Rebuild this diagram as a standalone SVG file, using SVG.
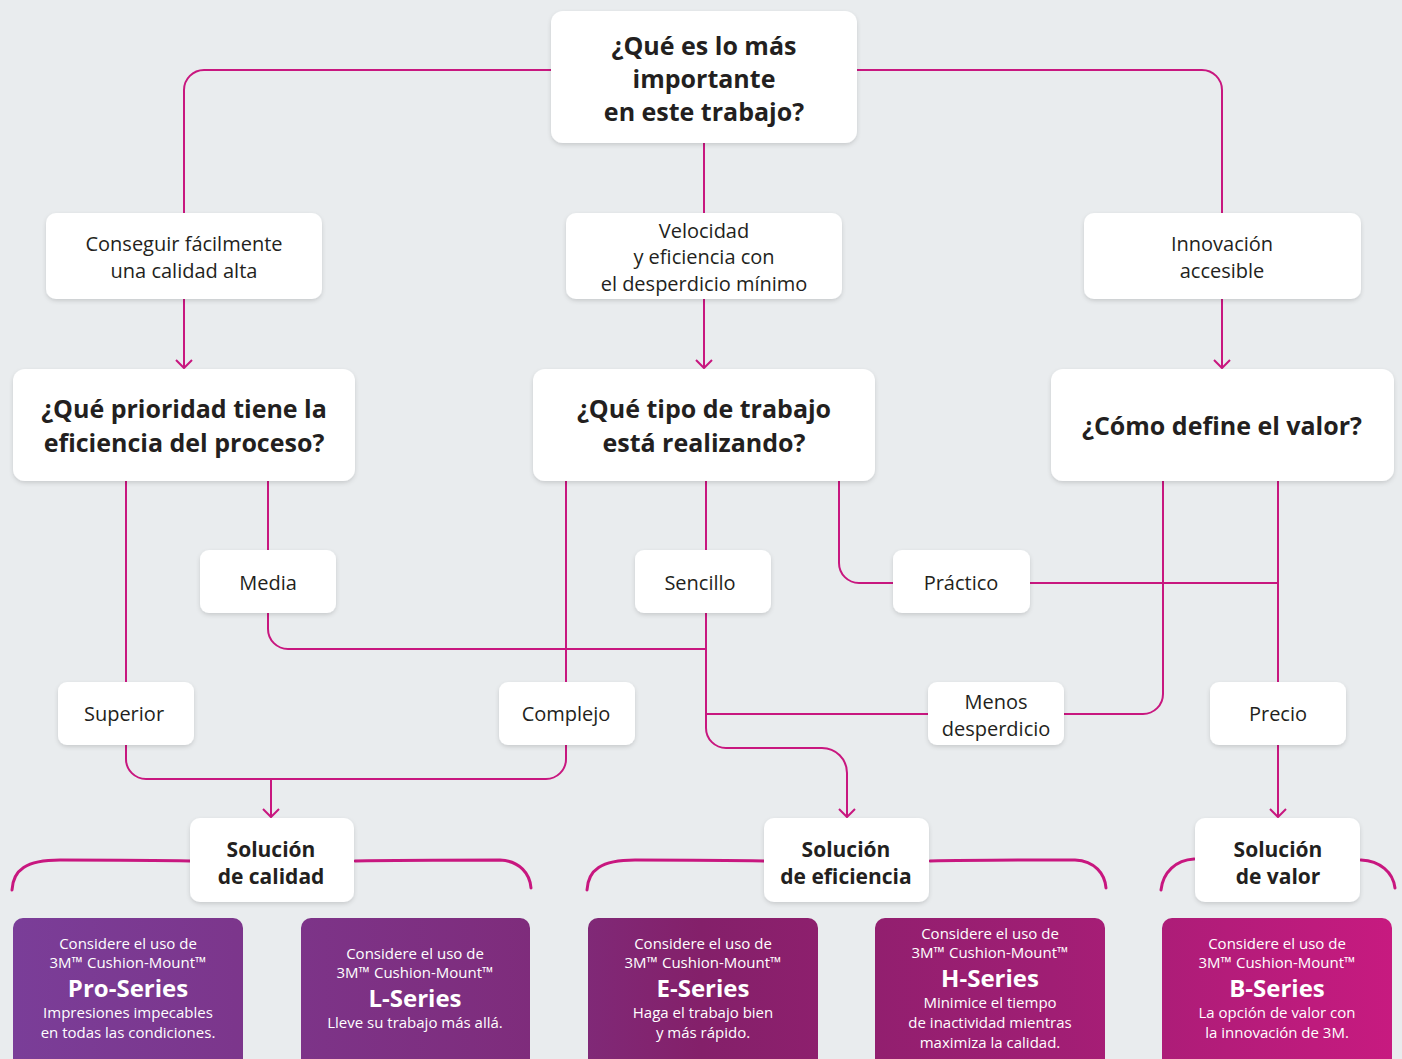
<svg xmlns="http://www.w3.org/2000/svg" width="1402" height="1059" viewBox="0 0 1402 1059">
<defs>
<style>
.bx{fill:#ffffff;filter:url(#sh)}
.t{font-family:"Open Sans","Liberation Sans",sans-serif;fill:#231f20;text-anchor:middle}
.r{font-size:20px;font-weight:400}
.q{font-size:25px;font-weight:700}
.s{font-size:21px;font-weight:700}
.w{font-family:"Open Sans","Liberation Sans",sans-serif;fill:#ffffff;text-anchor:middle;font-size:15px}
.w .n{font-size:24px;font-weight:700}
.c{fill:none;stroke:#c8177f;stroke-width:2}
.br{fill:none;stroke:#c8177f;stroke-width:3;stroke-linecap:round}
.pb{fill:url(#pg)}
</style>
<filter id="sh" x="-10%" y="-10%" width="120%" height="130%">
<feDropShadow dx="0" dy="2" stdDeviation="2" flood-color="#000" flood-opacity="0.14"/>
</filter>
<linearGradient id="pg" gradientUnits="userSpaceOnUse" x1="0" y1="0" x2="1402" y2="0">
<stop offset="0" stop-color="#7a3e99"/>
<stop offset="0.4" stop-color="#7f2b7a"/>
<stop offset="0.5" stop-color="#84206a"/>
<stop offset="0.75" stop-color="#a01e74"/>
<stop offset="1" stop-color="#c81a80"/>
</linearGradient>
<marker id="ar" viewBox="-10 -10 12 20" refX="0" refY="0" markerWidth="12" markerHeight="20" markerUnits="userSpaceOnUse" orient="auto">
<path d="M-8,-8 L0,0 L-8,8" fill="none" stroke="#c8177f" stroke-width="2"/>
</marker>
</defs>
<rect x="0" y="0" width="1402" height="1059" fill="#e9ecee"/>

<g id="connectors">
<path class="c" d="M551,70 H204 A20,20 0 0 0 184,90 V213"/>
<path class="c" d="M857,70 H1202 A20,20 0 0 1 1222,90 V213"/>
<path class="c" d="M704,143 V213"/>
<path class="c" d="M184,299 V368" marker-end="url(#ar)"/>
<path class="c" d="M704,299 V368" marker-end="url(#ar)"/>
<path class="c" d="M1222,299 V368" marker-end="url(#ar)"/>
<path class="c" d="M126,481 V682"/>
<path class="c" d="M268,481 V550"/>
<path class="c" d="M268,613 V629 A20,20 0 0 0 288,649 H706"/>
<path class="c" d="M126,745 V759 A20,20 0 0 0 146,779 H546 A20,20 0 0 0 566,759 V745"/>
<path class="c" d="M271,779 V817" marker-end="url(#ar)"/>
<path class="c" d="M566,481 V682"/>
<path class="c" d="M706,481 V550"/>
<path class="c" d="M706,613 V728 A20,20 0 0 0 726,748 H822 A25,25 0 0 1 847,773 V817" marker-end="url(#ar)"/>
<path class="c" d="M706,714 H928"/>
<path class="c" d="M839,481 V563 A20,20 0 0 0 859,583 H893"/>
<path class="c" d="M1030,583 H1278"/>
<path class="c" d="M1163,481 V694 A20,20 0 0 1 1143,714 H1064"/>
<path class="c" d="M1278,481 V682"/>
<path class="c" d="M1278,745 V817" marker-end="url(#ar)"/>
<path class="br" d="M12,890 C13,870 26,860 60,860 C110,860 150,860 190,861"/>
<path class="br" d="M355,861 C400,860 450,860 500,860 C520,861 530,874 531,888"/>
<path class="br" d="M587,890 C588,870 601,860 635,860 C680,860 720,860 764,861"/>
<path class="br" d="M930,861 C975,860 1025,860 1075,860 C1095,861 1105,874 1106,888"/>
<path class="br" d="M1161,890 C1163,872 1176,860 1194,859"/>
<path class="br" d="M1361,860 C1380,861 1393,872 1395,888"/>
</g>

<g id="n-top"><rect class="bx" x="551" y="11" width="306" height="132" rx="12"/>
<text class="t q"><tspan x="704" y="55">¿Qué es lo más</tspan><tspan x="704" y="88">importante</tspan><tspan x="704" y="121">en este trabajo?</tspan></text></g>

<g id="n-conseguir"><rect class="bx" x="46" y="213" width="276" height="86" rx="10"/>
<text class="t r"><tspan x="184" y="251">Conseguir fácilmente</tspan><tspan x="184" y="278">una calidad alta</tspan></text></g>

<g id="n-velocidad"><rect class="bx" x="566" y="213" width="276" height="86" rx="10"/>
<text class="t r"><tspan x="704" y="238">Velocidad</tspan><tspan x="704" y="264">y eficiencia con</tspan><tspan x="704" y="291">el desperdicio mínimo</tspan></text></g>

<g id="n-innovacion"><rect class="bx" x="1084" y="213" width="277" height="86" rx="10"/>
<text class="t r"><tspan x="1222" y="251">Innovación</tspan><tspan x="1222" y="278">accesible</tspan></text></g>

<g id="n-prioridad"><rect class="bx" x="13" y="369" width="342" height="112" rx="12"/>
<text class="t q"><tspan x="184" y="418">¿Qué prioridad tiene la</tspan><tspan x="184" y="452">eficiencia del proceso?</tspan></text></g>

<g id="n-tipo"><rect class="bx" x="533" y="369" width="342" height="112" rx="12"/>
<text class="t q"><tspan x="704" y="418">¿Qué tipo de trabajo</tspan><tspan x="704" y="452">está realizando?</tspan></text></g>

<g id="n-valor"><rect class="bx" x="1051" y="369" width="343" height="112" rx="12"/>
<text class="t q" x="1222" y="435">¿Cómo define el valor?</text></g>

<g id="n-media"><rect class="bx" x="200" y="550" width="136" height="63" rx="9"/>
<text class="t r" x="268" y="590">Media</text></g>

<g id="n-sencillo"><rect class="bx" x="635" y="550" width="136" height="63" rx="9"/>
<text class="t r" x="700" y="590">Sencillo</text></g>

<g id="n-practico"><rect class="bx" x="893" y="550" width="137" height="63" rx="9"/>
<text class="t r" x="961" y="590">Práctico</text></g>

<g id="n-superior"><rect class="bx" x="58" y="682" width="136" height="63" rx="9"/>
<text class="t r" x="124" y="721">Superior</text></g>

<g id="n-complejo"><rect class="bx" x="499" y="682" width="136" height="63" rx="9"/>
<text class="t r" x="566" y="721">Complejo</text></g>

<g id="n-menos"><rect class="bx" x="928" y="682" width="136" height="63" rx="9"/>
<text class="t r"><tspan x="996" y="709">Menos</tspan><tspan x="996" y="736">desperdicio</tspan></text></g>

<g id="n-precio"><rect class="bx" x="1210" y="682" width="136" height="63" rx="9"/>
<text class="t r" x="1278" y="721">Precio</text></g>

<g id="n-sol-calidad"><rect class="bx" x="190" y="818" width="164" height="84" rx="10"/>
<text class="t s"><tspan x="271" y="857">Solución</tspan><tspan x="271" y="884">de calidad</tspan></text></g>

<g id="n-sol-eficiencia"><rect class="bx" x="764" y="818" width="165" height="84" rx="10"/>
<text class="t s"><tspan x="846" y="857">Solución</tspan><tspan x="846" y="884">de eficiencia</tspan></text></g>

<g id="n-sol-valor"><rect class="bx" x="1195" y="818" width="165" height="84" rx="10"/>
<text class="t s"><tspan x="1278" y="857">Solución</tspan><tspan x="1278" y="884">de valor</tspan></text></g>

<g id="p-pro"><rect class="pb" x="13" y="918" width="230" height="160" rx="10"/>
<text class="w"><tspan x="128" y="949">Considere el uso de</tspan><tspan x="128" y="968">3M™ Cushion-Mount™</tspan><tspan class="n" x="128" y="997">Pro-Series</tspan><tspan x="128" y="1018">Impresiones impecables</tspan><tspan x="128" y="1038">en todas las condiciones.</tspan></text></g>

<g id="p-l"><rect class="pb" x="301" y="918" width="229" height="160" rx="10"/>
<text class="w"><tspan x="415" y="959">Considere el uso de</tspan><tspan x="415" y="978">3M™ Cushion-Mount™</tspan><tspan class="n" x="415" y="1007">L-Series</tspan><tspan x="415" y="1028">Lleve su trabajo más allá.</tspan></text></g>

<g id="p-e"><rect class="pb" x="588" y="918" width="230" height="160" rx="10"/>
<text class="w"><tspan x="703" y="949">Considere el uso de</tspan><tspan x="703" y="968">3M™ Cushion-Mount™</tspan><tspan class="n" x="703" y="997">E-Series</tspan><tspan x="703" y="1018">Haga el trabajo bien</tspan><tspan x="703" y="1038">y más rápido.</tspan></text></g>

<g id="p-h"><rect class="pb" x="875" y="918" width="230" height="160" rx="10"/>
<text class="w"><tspan x="990" y="939">Considere el uso de</tspan><tspan x="990" y="958">3M™ Cushion-Mount™</tspan><tspan class="n" x="990" y="987">H-Series</tspan><tspan x="990" y="1008">Minimice el tiempo</tspan><tspan x="990" y="1028">de inactividad mientras</tspan><tspan x="990" y="1048">maximiza la calidad.</tspan></text></g>

<g id="p-b"><rect class="pb" x="1162" y="918" width="230" height="160" rx="10"/>
<text class="w"><tspan x="1277" y="949">Considere el uso de</tspan><tspan x="1277" y="968">3M™ Cushion-Mount™</tspan><tspan class="n" x="1277" y="997">B-Series</tspan><tspan x="1277" y="1018">La opción de valor con</tspan><tspan x="1277" y="1038">la innovación de 3M.</tspan></text></g>
</svg>
